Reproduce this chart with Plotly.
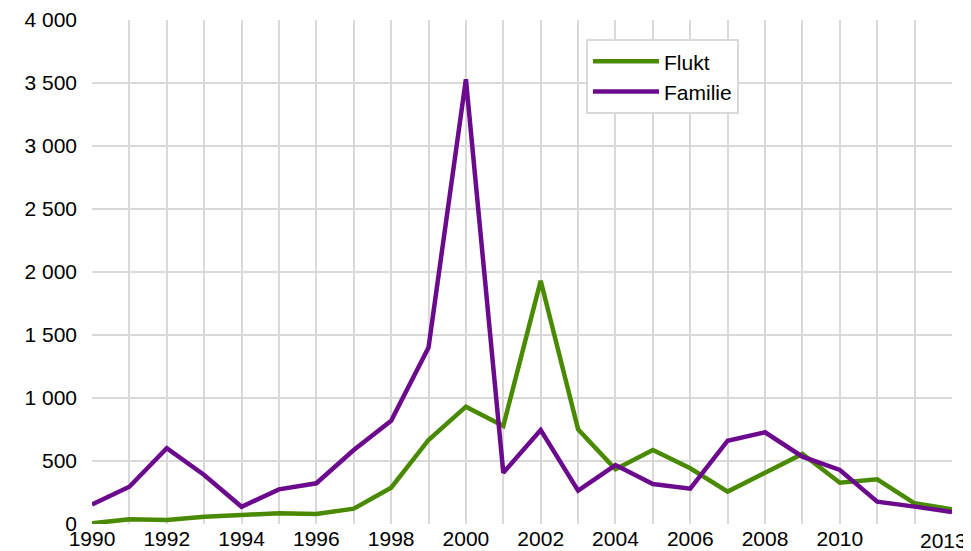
import plotly.graph_objects as go

years = list(range(1990, 2014))
flukt = [5, 37, 32, 58, 71, 85, 79, 122, 288, 667, 931, 778, 1930, 751, 434, 587,
         442, 257, 407, 556, 328, 355, 164, 117]
familie = [155, 296, 601, 389, 137, 275, 323, 587, 820, 1400, 3530, 407, 746, 265,
           468, 317, 280, 661, 728, 534, 429, 177, 138, 95]

x_labels = {1990: "1990", 1992: "1992", 1994: "1994", 1996: "1996", 1998: "1998",
            2000: "2000", 2002: "2002", 2004: "2004", 2006: "2006", 2008: "2008",
            2010: "2010"}
last_label_year = 2013
last_label = "2013"
y_vals = [0, 500, 1000, 1500, 2000, 2500, 3000, 3500, 4000]
y_text = ["0", "500", "1 000", "1 500", "2 000", "2 500", "3 000", "3 500", "4 000"]

FONT = "Liberation Sans, Arial, sans-serif"
GREEN = "#4a8a00"
PURPLE = "#6b0a8c"
GRID = "#d9d9d9"

fig = go.Figure()
fig.add_trace(go.Scatter(x=years, y=flukt, name="Flukt", mode="lines",
                         line=dict(color=GREEN, width=4.5)))
fig.add_trace(go.Scatter(x=years, y=familie, name="Familie", mode="lines",
                         line=dict(color=PURPLE, width=4.5)))

# last year label sits slightly left of its gridline, as in the original
fig.add_annotation(x=last_label_year, xref="x", y=0, yref="paper",
                   text=last_label, showarrow=False, xanchor="center",
                   yanchor="top", xshift=-9, yshift=-4, borderpad=0,
                   font=dict(family=FONT, size=21, color="#000000"))

# page body has an 8px default margin, so offsets compensate for it
fig.update_layout(
    width=963, height=543,
    margin=dict(l=84, r=19, t=12, b=27, autoexpand=False),
    paper_bgcolor="white", plot_bgcolor="white",
    font=dict(family=FONT, size=21, color="#000000"),
    showlegend=True,
    legend=dict(x=0.5744, y=0.962, xanchor="left", yanchor="top",
                bgcolor="white", bordercolor=GRID, borderwidth=2,
                font=dict(size=21), itemwidth=66, tracegroupgap=2),
    xaxis=dict(range=[1990, 2013], tickmode="array", tickvals=years,
               ticktext=[x_labels.get(y, "") for y in years],
               showgrid=True, gridcolor=GRID, gridwidth=2,
               zeroline=False, showline=False, ticks="",
               tickfont=dict(size=21), tickangle=0, automargin=False,
               ticklabelstandoff=0, ticklabeloverflow="allow"),
    yaxis=dict(range=[0, 4000], tickmode="array", tickvals=y_vals, ticktext=y_text,
               showgrid=True, gridcolor=GRID, gridwidth=2,
               zeroline=False, showline=False, ticks="", automargin=False,
               tickfont=dict(size=21), ticklabelstandoff=14,
               ticklabeloverflow="allow"),
)

fig.write_html("out.html")
